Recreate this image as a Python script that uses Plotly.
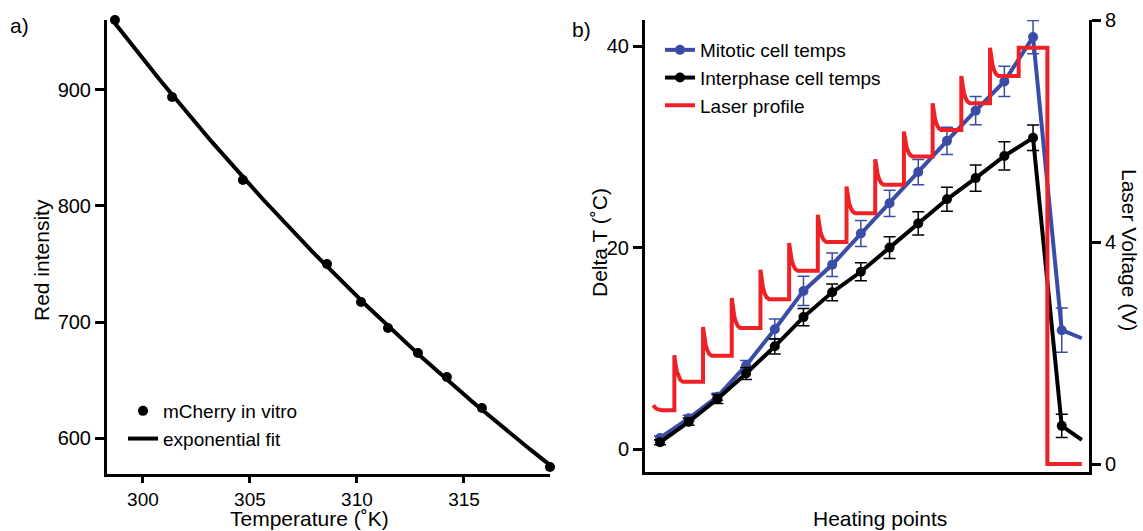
import numpy as np
import plotly.graph_objects as go

# ---- panel a: mCherry red intensity vs temperature ----
temps_K = [298.69, 301.36, 304.67, 308.6, 310.19, 311.45, 312.85, 314.2, 315.84, 319.02]
red_intensity = [960.3, 894.0, 822.4, 750.0, 717.2, 694.8, 673.3, 652.6, 625.9, 575.0]

# ---- panel b: heating points ----
heating_idx = list(range(1, 16))
mitotic = [1.1, 3.05, 5.2, 8.3, 11.9, 15.7, 18.3, 21.4, 24.4, 27.5, 30.6, 33.6, 36.5, 40.9, 11.8]
mitotic_err = [0.2, 0.3, 0.35, 0.5, 1.0, 1.45, 1.16, 1.3, 1.3, 1.25, 1.36, 1.4, 1.5, 1.65, 2.2]
interphase = [0.67, 2.7, 4.97, 7.5, 10.2, 13.1, 15.56, 17.6, 20.0, 22.4, 24.8, 26.9, 29.1, 30.9, 2.3]
interphase_err = [0.25, 0.35, 0.45, 0.6, 0.76, 0.86, 0.83, 0.9, 1.07, 1.15, 1.2, 1.3, 1.4, 1.27, 1.16]
tail_x = 15.7
mitotic_tail = 11.0
interphase_tail = 0.9

# laser voltage profile: steps with a transient overshoot after each step
laser_start_x, laser_start_v = 0.76, 1.06
step_x = [1.5, 2.5, 3.5, 4.5, 5.5, 6.5, 7.5, 8.5, 9.5, 10.5, 11.5, 12.5]
step_peak = [1.96, 2.47, 2.99, 3.5, 3.98, 4.49, 5.0, 5.49, 5.99, 6.5, 6.99, 7.5]
plateau = [0.97, 1.48, 1.95, 2.45, 2.97, 3.48, 4.0, 4.52, 5.03, 5.54, 6.02, 6.5, 6.99]
final_step_x, final_v = 13.5, 7.5
off_x, off_v = 14.5, 0.0
laser_end_x = 15.7
# overshoot relaxation shape (offset in heating-point units, fraction of overshoot left)
decay_dx = [0.0, 0.035, 0.09, 0.15, 0.21, 0.3]
decay_frac = [1.0, 0.68, 0.38, 0.19, 0.07, 0.0]

FONT = "Liberation Sans, Arial, Helvetica, sans-serif"
BLUE = "#3b4ca6"
RED = "#ee2127"
W, H = 1143, 531


def px_x(p):
    return p / W


def px_y(p):
    return 1 - p / H


# exponential fit of the intensity data
slope, intercept = np.polyfit(temps_K, np.log(red_intensity), 1)
t_fit = np.linspace(min(temps_K), max(temps_K), 120)
fit_vals = np.exp(intercept + slope * t_fit)

# assemble the laser trace
lx, ly = [], []


def add_decay(x0, peak, level):
    for dx, fr in zip(decay_dx, decay_frac):
        lx.append(x0 + dx)
        ly.append(level + fr * (peak - level))


add_decay(laser_start_x, laser_start_v, plateau[0])
for k, sx in enumerate(step_x):
    lx.append(sx)
    ly.append(plateau[k])
    add_decay(sx, step_peak[k], plateau[k + 1])
lx += [final_step_x, final_step_x, off_x, off_x, laser_end_x]
ly += [plateau[-1], final_v, final_v, off_v, off_v]

fig = go.Figure()

# panel a traces
fig.add_trace(go.Scatter(
    x=t_fit, y=fit_vals, mode="lines", name="exponential fit",
    line=dict(color="black", width=4), xaxis="x", yaxis="y",
    legend="legend", legendrank=2, cliponaxis=False))
fig.add_trace(go.Scatter(
    x=temps_K, y=red_intensity, mode="markers", name="mCherry in vitro",
    marker=dict(color="black", size=10), xaxis="x", yaxis="y",
    legend="legend", legendrank=1, cliponaxis=False))

# panel b traces
fig.add_trace(go.Scatter(
    x=[heating_idx[-1], tail_x], y=[mitotic[-1], mitotic_tail], mode="lines",
    line=dict(color=BLUE, width=4), showlegend=False, xaxis="x2", yaxis="y2",
    cliponaxis=False))
fig.add_trace(go.Scatter(
    x=heating_idx, y=mitotic, mode="lines+markers", name="Mitotic cell temps",
    line=dict(color=BLUE, width=4), marker=dict(color=BLUE, size=10),
    error_y=dict(type="data", array=mitotic_err, color=BLUE, thickness=1.5, width=6),
    xaxis="x2", yaxis="y2", legend="legend2", cliponaxis=False))
fig.add_trace(go.Scatter(
    x=[heating_idx[-1], tail_x], y=[interphase[-1], interphase_tail], mode="lines",
    line=dict(color="black", width=4), showlegend=False, xaxis="x2", yaxis="y2",
    cliponaxis=False))
fig.add_trace(go.Scatter(
    x=heating_idx, y=interphase, mode="lines+markers", name="Interphase cell temps",
    line=dict(color="black", width=4), marker=dict(color="black", size=10),
    error_y=dict(type="data", array=interphase_err, color="black", thickness=1.5, width=6),
    xaxis="x2", yaxis="y2", legend="legend2", cliponaxis=False))
fig.add_trace(go.Scatter(
    x=lx, y=ly, mode="lines", name="Laser profile",
    line=dict(color=RED, width=4), xaxis="x2", yaxis="y3",
    legend="legend2", cliponaxis=False))

axis_common = dict(
    showline=True, linecolor="black", linewidth=3, showgrid=False, zeroline=False,
    ticks="outside", ticklen=9, tickwidth=2.5, tickcolor="black", automargin=False,
    tickfont=dict(family=FONT, size=20, color="black"),
)
x_axis_a = dict(axis_common, ticklen=6, tickfont=dict(family=FONT, size=19, color="black"))

fig.update_layout(
    width=W, height=H,
    margin=dict(l=0, r=0, t=0, b=0, pad=0, autoexpand=False),
    paper_bgcolor="white", plot_bgcolor="white",
    font=dict(family=FONT, size=20, color="black"),
    xaxis=dict(domain=[px_x(107), px_x(550)], range=[298.32, 319.02],
               tickvals=[300, 305, 310, 315], anchor="y", **x_axis_a),
    yaxis=dict(domain=[px_y(474), px_y(20)], range=[569, 960.3],
               tickvals=[600, 700, 800, 900], anchor="x", **axis_common),
    xaxis2=dict(domain=[px_x(645), px_x(1089)], range=[0.477, 15.95], anchor="y2",
                showline=True, linecolor="black", linewidth=3, showgrid=False,
                zeroline=False, ticks="", showticklabels=False, automargin=False),
    yaxis2=dict(domain=[px_y(472), px_y(20)], range=[-2.28, 42.6],
                tickvals=[0, 20, 40], anchor="x2", **axis_common),
    yaxis3=dict(overlaying="y2", side="right", anchor="x2", range=[-0.144, 8.0],
                tickvals=[0, 4, 8], **axis_common),
    legend=dict(x=px_x(123), y=px_y(392), xanchor="left", yanchor="top",
                bgcolor="rgba(0,0,0,0)", itemwidth=30, tracegroupgap=0,
                font=dict(family=FONT, size=19, color="black")),
    legend2=dict(x=px_x(660), y=px_y(31), xanchor="left", yanchor="top",
                 bgcolor="rgba(0,0,0,0)", itemwidth=30, tracegroupgap=0,
                 font=dict(family=FONT, size=19, color="black")),
)

title_font = dict(family=FONT, size=21, color="black")
annotations = [
    dict(text="a)", x=px_x(19), y=px_y(25), font=dict(family=FONT, size=21, color="black")),
    dict(text="b)", x=px_x(581), y=px_y(29), font=dict(family=FONT, size=21, color="black")),
    dict(text="Red intensity", x=px_x(41), y=px_y(260), textangle=-90, font=title_font),
    dict(text="Temperature (˚K)", x=px_x(309), y=0, yanchor="bottom", borderpad=0, font=title_font),
    dict(text="Delta T (˚C)", x=px_x(599), y=px_y(243), textangle=-90, font=title_font),
    dict(text="Heating points", x=px_x(880), y=0, yanchor="bottom", borderpad=0, font=title_font),
    dict(text="Laser Voltage (V)", x=px_x(1130), y=px_y(250), textangle=90, font=title_font),
]
for a in annotations:
    a.setdefault("yanchor", "middle")
    a.update(xref="paper", yref="paper", showarrow=False, xanchor="center")
fig.update_layout(annotations=annotations)

fig.write_html("out.html")
